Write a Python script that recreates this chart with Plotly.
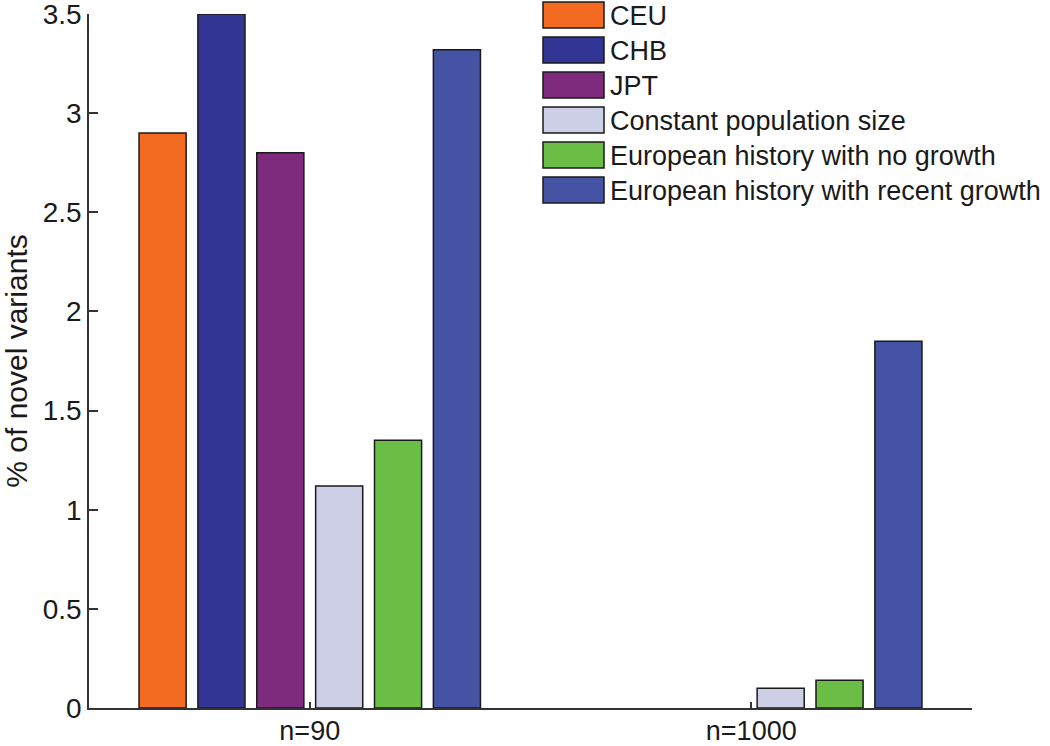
import plotly.graph_objects as go

# ---- data ----
groups = ["n=90", "n=1000"]
group_pos = [1, 2]
series_names = ["CEU", "CHB", "JPT", "Constant population size",
                "European history with no growth", "European history with recent growth"]
ceu = [2.90, None]
chb = [3.50, None]
jpt = [2.80, None]
constant = [1.12, 0.10]
no_growth = [1.35, 0.14]
recent_growth = [3.32, 1.85]
series_values = [ceu, chb, jpt, constant, no_growth, recent_growth]
colors = ["#F26B21", "#343696", "#7E2A7D", "#CDCFE6", "#6ABE45", "#4553A5"]
y_ticks = [0, 0.5, 1, 1.5, 2, 2.5, 3, 3.5]

FONT = "Liberation Sans, Arial, Helvetica, sans-serif"
FS_LEG = 27
FS_YTICK = 28
FS_XTICK = 27
FS_TITLE = 30
W, H = 1050, 746
L, R, T, B = 89, 78, 14, 38
plot_w = W - L - R
plot_h = H - T - B

def px_x(x):
    return (x - L) / plot_w

def px_y(y):
    return (H - B - y) / plot_h

fig = go.Figure()
for name, vals, col in zip(series_names, series_values, colors):
    fig.add_trace(go.Bar(
        x=group_pos, y=vals, name=name, showlegend=False,
        marker=dict(color=col, line=dict(color="#1a1a1a", width=1.5)),
    ))

# custom legend (large swatches like the original)
shapes = []
annotations = []
for i, (name, col) in enumerate(zip(series_names, colors)):
    top = 2 + 35 * i
    bot = 28 + 35 * i
    shapes.append(dict(type="rect", xref="paper", yref="paper",
                       x0=px_x(543), x1=px_x(604), y0=px_y(bot), y1=px_y(top),
                       fillcolor=col, line=dict(color="#1a1a1a", width=1.5)))
    annotations.append(dict(xref="paper", yref="paper", x=px_x(608), y=px_y(16 + 35 * i),
                            text=name, showarrow=False, xanchor="left", yanchor="middle",
                            font=dict(family=FONT, size=FS_LEG, color="#1a1a1a")))

fig.update_layout(
    width=W, height=H,
    margin=dict(l=L, r=R, t=T, b=B, autoexpand=False),
    paper_bgcolor="white", plot_bgcolor="white",
    barmode="group", bargap=0.2, bargroupgap=0.2,
    font=dict(family=FONT, size=FS_YTICK, color="#1a1a1a"),
    shapes=shapes, annotations=annotations,
    showlegend=False,
)
fig.update_xaxes(
    range=[0.5, 2.5], tickvals=group_pos, ticktext=groups,
    showline=True, linecolor="#333333", linewidth=1.5,
    ticks="inside", ticklen=6, tickcolor="#333333", tickwidth=1.5,
    showgrid=False, zeroline=False, ticklabelstandoff=-2, automargin=False,
    ticklabeloverflow="allow",
    tickfont=dict(size=FS_XTICK, family=FONT, color="#1a1a1a"),
)
fig.update_yaxes(
    range=[0, 3.5], tickvals=y_ticks, ticktext=[f"{v:g}" for v in y_ticks],
    showline=True, linecolor="#333333", linewidth=1.5,
    ticks="inside", ticklen=9, tickcolor="#333333", tickwidth=1.5,
    showgrid=False, zeroline=False, ticklabelstandoff=0, automargin=False,
    ticklabeloverflow="allow",
    tickfont=dict(size=FS_YTICK, family=FONT, color="#1a1a1a"),
    title=dict(text="% of novel variants", font=dict(size=FS_TITLE, family=FONT, color="#1a1a1a"), standoff=8),
)

fig.write_html("out.html", config={"displayModeBar": False},
               post_script="document.body.style.margin='0';document.body.style.overflow='hidden';")
